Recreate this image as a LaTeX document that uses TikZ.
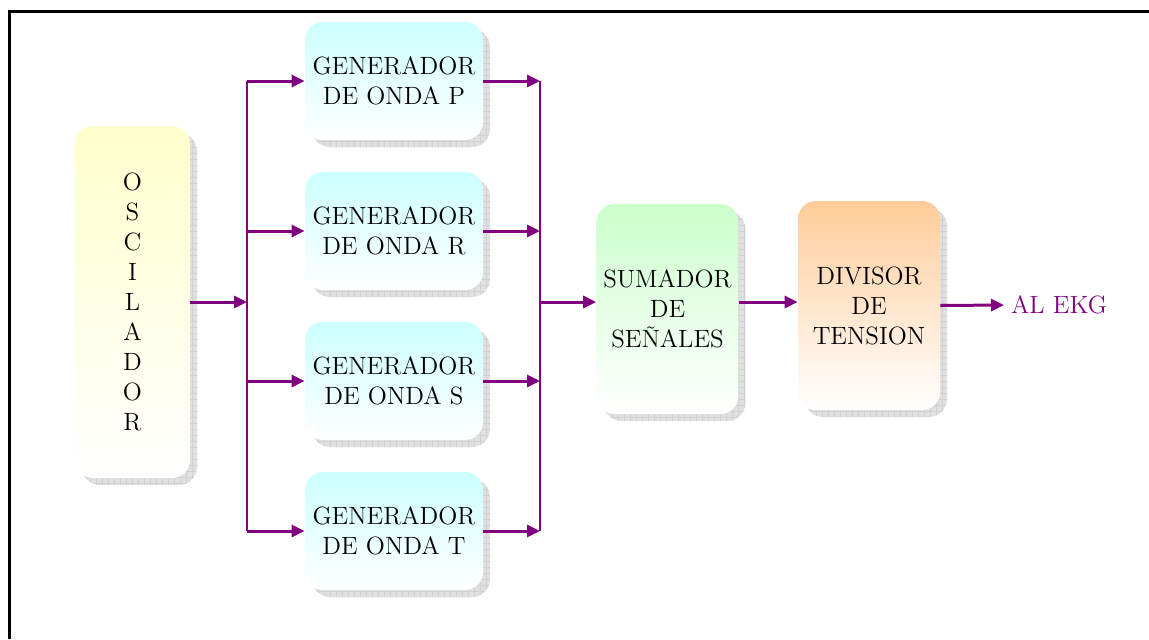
\documentclass[tikz,border=0pt]{standalone}
\usepackage{fontspec}
\usepackage{tikz}
\usetikzlibrary{arrows.meta,shadows,patterns}

\definecolor{ekg}{HTML}{800080}
\definecolor{oscyellow}{HTML}{FFFFCC}
\definecolor{gencyan}{HTML}{CCFFFF}
\definecolor{sumgreen}{HTML}{CCFFCC}
\definecolor{divorange}{HTML}{FFCC99}

\begin{document}
\begin{tikzpicture}[x=0.5pt, y=-0.5pt, >={Triangle[length=6.5pt,width=6pt]},
  block/.style={rounded corners=9pt, minimum width=89pt, minimum height=59pt,
    align=center, font=\fontsize{12.5}{15}\selectfont, bottom color=white,
    general shadow={shadow xshift=3.5pt, shadow yshift=-3.5pt, fill=black!12,
      postaction={pattern=grid, pattern color=black!18}}},
  link/.style={->, draw=ekg, line width=1.5pt},
  bus/.style={draw=ekg, line width=1pt}]

\useasboundingbox (0,0) rectangle (1149,639);
\draw [line width=1.5pt] (9,639) |- (1149,11);

\node [block, top color=oscyellow, minimum width=57.5pt, minimum height=176pt] (osc) at (132.5,302)
  {O\\S\\C\\I\\L\\A\\D\\O\\R};

\foreach \w [count=\y] in {P,R,S,T}
  \node [block, top color=gencyan] (gen-\y) at (394,150*\y-69) {GENERADOR\\DE ONDA \w};

\node [block, top color=sumgreen, minimum width=70.5pt, minimum height=105pt] (sum) at (667.5,309)
  {SUMADOR\\DE\\SEÑALES};
\node [block, top color=divorange, minimum width=71pt, minimum height=104.5pt] (div) at (869,305.5)
  {DIVISOR\\DE\\TENSION};
\node [text=ekg, font=\fontsize{12.5}{15}\selectfont, anchor=west] (out) at (1004,305) {AL EKG};

\coordinate (split) at (247,300);
\coordinate (join) at (540,302);

\draw [bus] (gen-1.west -| split) -- (gen-4.west -| split);
\draw [bus] (gen-1.east -| join) -- (gen-4.east -| join);

\draw [link] (osc.east) -- (osc.east -| split);

\foreach \i in {1,...,4} {
  \draw [link] (gen-\i.west -| split) -- (gen-\i.west);
  \draw [link] (gen-\i.east) -- (gen-\i.east -| join);
}

\draw [link] (join) -- (join -| sum.west);
\draw [link] (sum.east |- join) -- (div.west |- join);
\draw [link] (div.east) -- (out.west);

\end{tikzpicture}
\end{document}
